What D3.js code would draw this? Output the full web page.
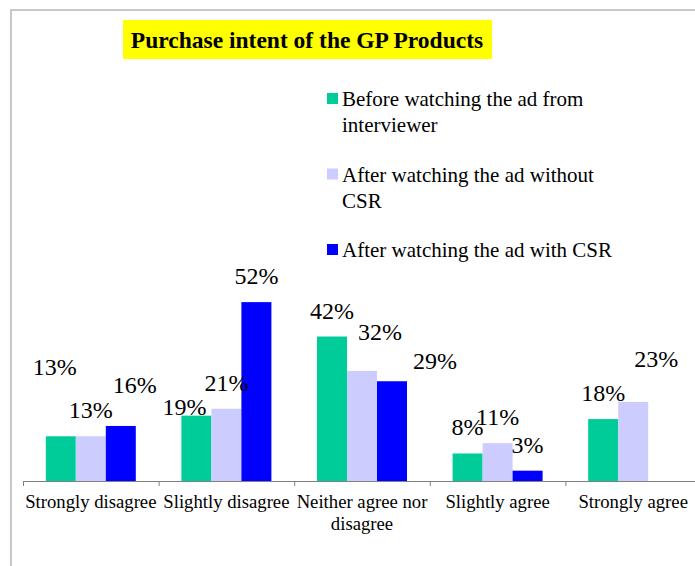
<!DOCTYPE html>
<html>
<head>
<meta charset="utf-8">
<script src="https://cdn.jsdelivr.net/npm/d3@7"></script>
<style>
  body { margin: 0; background: #fff; }
</style>
</head>
<body>
<div id="chart"></div>
<script>
// data
var categories = ["Strongly disagree", "Slightly disagree", "Neither agree nor disagree", "Slightly agree", "Strongly agree"];
var seriesNames = ["Before watching the ad from interviewer", "After watching the ad without CSR", "After watching the ad with CSR"];
var before = [13, 19, 42, 8, 18];
var withoutCSR = [13, 21, 32, 11, 23];
var withCSR = [16, 52, 29, 3, null];
var colors = ["#00cc99", "#ccccff", "#0000ff"];

// labels in the original were dragged around by hand: [dx, dy] from default spot
var labelNudge = {
    "0-0": [-6, -43], "0-1": [-12, 17], "1-2": [18, -13], "1-4": [23, -17],
    "2-0": [14, -15], "2-2": [43, 6]
};

var serif = "'Liberation Serif', 'Times New Roman', 'DejaVu Serif', serif";
var width = 695, height = 566;
var svg = d3.select("#chart").append("svg")
    .attr("width", width)
    .attr("height", height)
    .attr("font-family", serif)
    .style("font-family", serif);

// outer frame (cut off on the right and bottom)
svg.append("rect")
    .attr("x", 11).attr("y", 10)
    .attr("width", 720).attr("height", 600)
    .style("fill", "none")
    .style("stroke", "#c8c8c8")
    .style("stroke-width", 2);

// title
svg.append("rect")
    .attr("x", 123).attr("y", 20)
    .attr("width", 369).attr("height", 39)
    .style("fill", "#ffff00");
svg.append("text")
    .attr("x", 307).attr("y", 48)
    .attr("text-anchor", "middle")
    .style("font-size", "23.5px")
    .style("font-weight", "bold")
    .text("Purchase intent of the GP Products");

var series = [before, withoutCSR, withCSR];
var axisY = 481;

var x0 = d3.scaleBand()
    .domain(categories)
    .range([23, 701])
    .padding(0);

var x1 = d3.scaleBand()
    .domain(d3.range(series.length))
    .range([0, x0.bandwidth()])
    .paddingInner(0)
    .paddingOuter(0.76);

var y = d3.scaleLinear()
    .domain([0, 60])
    .range([axisY, axisY - 206.4]);

// bars
series.forEach(function (vals, si) {
    svg.append("g").selectAll("rect")
        .data(vals.map(function (v, ci) { return {v: v, c: categories[ci], ci: ci}; })
            .filter(function (d) { return d.v != null; }))
        .enter()
        .append("rect")
        .attr("x", function (d) { return x0(d.c) + x1(si); })
        .attr("y", function (d) { return y(d.v); })
        .attr("width", x1.bandwidth())
        .attr("height", function (d) { return axisY - y(d.v); })
        .style("fill", colors[si]);
});

// axis line + boundary ticks
svg.append("line")
    .attr("x1", x0.range()[0]).attr("x2", x0.range()[1])
    .attr("y1", axisY + 0.5).attr("y2", axisY + 0.5)
    .style("stroke", "#808080");
svg.append("g").selectAll("line")
    .data(categories)
    .enter()
    .append("line")
    .attr("x1", function (d) { return x0(d) + 0.5; })
    .attr("x2", function (d) { return x0(d) + 0.5; })
    .attr("y1", axisY).attr("y2", axisY + 5)
    .style("stroke", "#808080");

// category labels, wrapped to the band width
function wrap(textSel, w, lineH) {
    textSel.each(function () {
        var t = d3.select(this);
        var words = t.text().split(" ");
        var xPos = t.attr("x");
        t.text(null);
        var line = [];
        var ts = t.append("tspan").attr("x", xPos).attr("dy", 0);
        words.forEach(function (word) {
            line.push(word);
            ts.text(line.join(" "));
            if (ts.node().getComputedTextLength() > w && line.length > 1) {
                line.pop();
                ts.text(line.join(" "));
                line = [word];
                ts = t.append("tspan").attr("x", xPos).attr("dy", lineH).text(word);
            }
        });
    });
}

svg.append("g").selectAll("text")
    .data(categories)
    .enter()
    .append("text")
    .attr("x", function (d) { return x0(d) + x0.bandwidth() / 2; })
    .attr("y", axisY + 27)
    .attr("text-anchor", "middle")
    .style("font-size", "18.7px")
    .text(function (d) { return d; })
    .call(wrap, x0.bandwidth(), 22);

// value labels
series.forEach(function (vals, si) {
    svg.append("g").selectAll("text")
        .data(vals.map(function (v, ci) { return {v: v, c: categories[ci], ci: ci}; })
            .filter(function (d) { return d.v != null; }))
        .enter()
        .append("text")
        .attr("x", function (d) {
            var n = labelNudge[si + "-" + d.ci] || [0, 0];
            return x0(d.c) + x1(si) + x1.bandwidth() / 2 + n[0];
        })
        .attr("y", function (d) {
            var n = labelNudge[si + "-" + d.ci] || [0, 0];
            return y(d.v) - 18 + n[1];
        })
        .attr("text-anchor", "middle")
        .style("font-size", "24px")
        .text(function (d) { return d.v + "%"; });
});

// legend
var legend = svg.append("g");
seriesNames.forEach(function (name, i) {
    var baseY = 106 + i * 75.5;
    legend.append("rect")
        .attr("x", 327).attr("y", baseY - 13)
        .attr("width", 11).attr("height", 11)
        .style("fill", colors[i]);
    legend.append("text")
        .attr("x", 342).attr("y", baseY)
        .style("font-size", "21px")
        .text(name)
        .call(wrap, 285, 26);
});
</script>
</body>
</html>
